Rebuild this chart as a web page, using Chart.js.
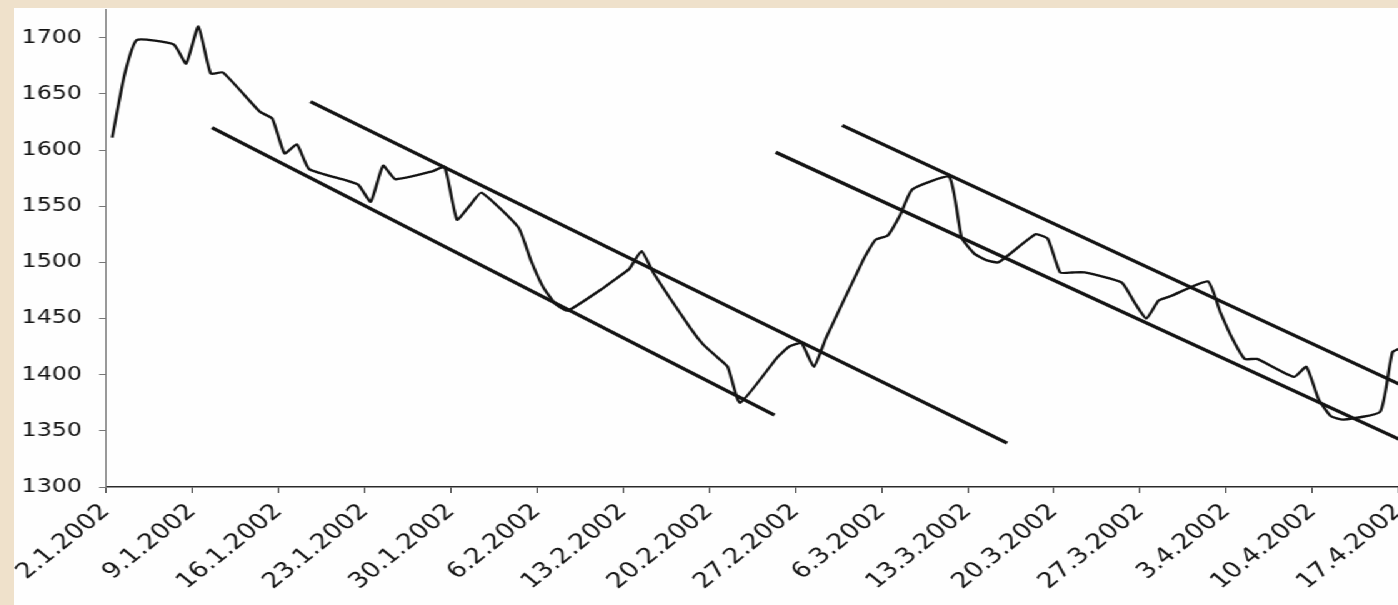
<!DOCTYPE html>
<html>
<head>
<meta charset="utf-8">
<title>Index 2002</title>
<script src="https://cdn.jsdelivr.net/npm/chart.js@4.4.1/dist/chart.umd.min.js"></script>
<style>
  html, body { margin: 0; padding: 0; }
  body { width: 1398px; height: 605px; overflow: hidden; background: #efe1cb; position: relative; }
  /* the scanned original is stretched horizontally, so the panel is too */
  #panel {
    position: absolute; left: 14px; top: 8px;
    width: 1180px; height: 597px;
    background: #fefefe;
    transform: scaleX(1.25); transform-origin: 0 0;
  }
</style>
</head>
<body>
<div id="panel"><canvas id="chart"></canvas></div>
<script>
// ===== DATA (year 2002, trading days) =====
const DATES = [
  '2.1', '3.1', '4.1', '7.1', '8.1', '9.1', '10.1', '11.1', '14.1', '15.1', '16.1',
  '17.1', '18.1', '21.1', '22.1', '23.1', '24.1', '25.1', '28.1', '29.1', '30.1', '31.1',
  '1.2', '4.2', '5.2', '6.2', '7.2', '8.2', '11.2', '12.2', '13.2', '14.2', '15.2',
  '18.2', '19.2', '20.2', '21.2', '22.2', '25.2', '26.2', '27.2', '28.2',
  '1.3', '4.3', '5.3', '6.3', '7.3', '8.3', '11.3', '12.3', '13.3', '14.3', '15.3',
  '18.3', '19.3', '20.3', '21.3', '22.3', '25.3', '26.3', '27.3', '28.3', '29.3',
  '1.4', '2.4', '3.4', '4.4', '5.4', '8.4', '9.4', '10.4', '11.4', '12.4', '15.4', '16.4', '17.4'
];
const PRICES = [
  1611, 1667, 1698, 1694, 1677, 1710, 1668, 1669, 1634, 1628, 1597,
  1605, 1583, 1573, 1569, 1554, 1586, 1574, 1581, 1585, 1538, 1550,
  1562, 1531, 1502, 1478, 1463, 1457, 1478, 1486, 1494, 1510, 1490,
  1441, 1427, 1417, 1407, 1375, 1415, 1425, 1428, 1407,
  1433, 1502, 1520, 1524, 1542, 1565, 1576, 1522, 1508, 1502, 1500,
  1525, 1521, 1491, 1491, 1491, 1482, 1465, 1450, 1466, 1470,
  1483, 1456, 1432, 1414, 1414, 1398, 1407, 1378, 1363, 1360, 1367, 1420, 1425
];
const WEEK_LABELS = [
  '2.1.2002', '9.1.2002', '16.1.2002', '23.1.2002', '30.1.2002', '6.2.2002',
  '13.2.2002', '20.2.2002', '27.2.2002', '6.3.2002', '13.3.2002', '20.3.2002',
  '27.3.2002', '3.4.2002', '10.4.2002', '17.4.2002'
];
// trend channels: [day since 2.1.2002, value] at both ends
const LOWER_1 = [[8.1, 1620], [53.8, 1364]];
const UPPER_1 = [[16.1, 1643], [72.7, 1339]];
const LOWER_2 = [[53.9, 1598], [108, 1325]];
const UPPER_2 = [[59.3, 1622], [108, 1374]];

const Y_MIN = 1300, Y_MAX = 1725, Y_STEP = 50;

// days since 2.1.2002
function dayOf(dm) {
  const [d, m] = dm.split('.').map(Number);
  return (Date.UTC(2002, m - 1, d) - Date.UTC(2002, 0, 2)) / 86400000;
}

const FONT = 'DejaVu Sans';
const INK = '#141414';

function channel(pts) {
  return {
    data: pts.map(p => ({ x: p[0], y: p[1] })),
    borderColor: INK,
    borderWidth: 3.2,
    pointRadius: 0,
    tension: 0
  };
}

new Chart(document.getElementById('chart'), {
  type: 'line',
  data: {
    datasets: [
      {
        data: DATES.map((dt, i) => ({ x: dayOf(dt), y: PRICES[i] })),
        borderColor: INK,
        borderWidth: 2.4,
        pointRadius: 0,
        tension: 0.15
      },
      channel(LOWER_1),
      channel(UPPER_1),
      channel(LOWER_2),
      channel(UPPER_2)
    ]
  },
  options: {
    responsive: true,
    maintainAspectRatio: false,
    animation: false,
    layout: { padding: 0 },
    plugins: { legend: { display: false }, tooltip: { enabled: false } },
    scales: {
      x: {
        type: 'linear',
        min: -0.5,
        max: 111.67,
        afterBuildTicks: axis => {
          axis.ticks = WEEK_LABELS.map((_, k) => ({ value: k * 7 - 0.5 }));
        },
        afterFit: scale => {
          scale.height = 118;
          scale.paddingLeft = 0;
          scale.paddingRight = 0;
        },
        ticks: {
          autoSkip: false,
          minRotation: 45,
          maxRotation: 45,
          padding: 6,
          color: INK,
          font: { family: FONT, size: 21.5 },
          callback: (v, i) => WEEK_LABELS[i]
        },
        grid: { drawOnChartArea: false, tickLength: 6, color: '#333' },
        border: { color: '#2a2a2a', width: 1.5 }
      },
      y: {
        min: Y_MIN,
        max: Y_MAX,
        afterFit: scale => {
          scale.width = 73.6;
          scale.paddingTop = 0;
          scale.paddingBottom = 0;
        },
        ticks: {
          stepSize: Y_STEP,
          includeBounds: false,
          padding: 13.6,
          color: INK,
          font: { family: FONT, size: 19 },
          callback: v => String(v)
        },
        grid: { drawOnChartArea: false, tickLength: 5.6, color: '#777' },
        border: { color: '#777', width: 1 }
      }
    }
  }
});
</script>
</body>
</html>
